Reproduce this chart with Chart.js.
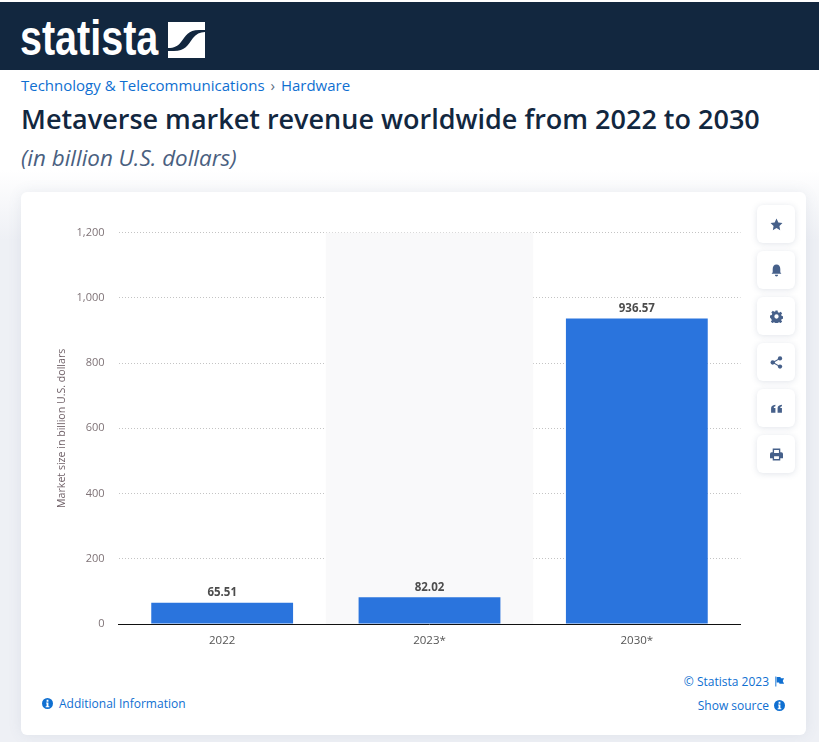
<!DOCTYPE html>
<html>
<head>
<meta charset="utf-8">
<title>Metaverse market revenue worldwide from 2022 to 2030</title>
<script src="https://cdn.jsdelivr.net/npm/chart.js@4"></script>
<style>
    html, body { margin: 0; padding: 0; }
    body { width: 819px; height: 742px; position: relative; overflow: hidden; background: #fff; font-family: "Open Sans", sans-serif; }
    .backdrop { position: absolute; left: 0; top: 170px; width: 819px; height: 572px; background: linear-gradient(#fff 0, #eef0f5 70px); }
    .header { position: absolute; left: 0; top: 2px; width: 819px; height: 68px; background: #12273f; }
    .logo-text { position: absolute; left: 20px; top: 8px; color: #fff; font: bold 50px "Liberation Sans", sans-serif; line-height: 56px; transform: scaleX(0.79); transform-origin: left top; }
    .logo-mark { position: absolute; left: 168px; top: 20px; }
    .crumbs { position: absolute; left: 21px; top: 75px; font-size: 15px; line-height: 21px; color: #0f6fd1; white-space: nowrap; }
    .crumbs .sep { color: #5c6b80; margin: 0 2px; }
    h1 { position: absolute; left: 21px; top: 101px; margin: 0; font-size: 27px; line-height: 36px; font-weight: 600; color: #12273f; white-space: nowrap; }
    .subtitle { position: absolute; left: 21px; top: 143px; font-size: 22.4px; line-height: 30px; font-style: italic; color: #4a6080; white-space: nowrap; }
    .card { position: absolute; left: 21px; top: 192px; width: 785px; height: 543px; background: #fff; border-radius: 6px; box-shadow: 0 0 14px rgba(90, 105, 140, 0.10); }
    #chartBox { position: absolute; left: 40px; top: 212px; width: 710px; height: 443px; }
    .tool { position: absolute; left: 757px; width: 38px; height: 38px; background: #fff; border-radius: 6px; box-shadow: 0 1px 6px rgba(90, 105, 140, 0.18); display: flex; align-items: center; justify-content: center; }
    .tool svg { width: 13px; height: 13px; fill: #46608a; }
    .link { position: absolute; font-size: 12px; line-height: 16px; color: #0f6fd1; white-space: nowrap; }
    .link svg { position: absolute; width: 11px; height: 11px; top: 2px; fill: #0f6fd1; }
</style>
</head>
<body>
<div class="backdrop"></div>
<div class="header">
    <div class="logo-text">statista</div>
    <svg class="logo-mark" width="37" height="36" viewBox="0 0 37 36">
        <path fill="#fff" d="M0 0H37V8H31C20 8 18 14 13 20C10 24 6 26 0 26Z"/>
        <path fill="#fff" d="M37 36H0V29H6C17 29 20 23 25 16C28 12 32 10 37 10Z"/>
    </svg>
</div>
<div class="crumbs">Technology &amp; Telecommunications <span class="sep">›</span> Hardware</div>
<h1>Metaverse market revenue worldwide from 2022 to 2030</h1>
<div class="subtitle">(in billion U.S. dollars)</div>
<div class="card"></div>
<div id="chartBox"><canvas id="revenueChart"></canvas></div>

<div class="tool" style="top:205px"><svg viewBox="0 0 24 24"><path d="M12 1l3.4 7.2 7.6 1-5.6 5.4 1.4 7.8-6.8-3.8-6.8 3.8 1.4-7.8L1 9.2l7.6-1z"/></svg></div>
<div class="tool" style="top:251px"><svg viewBox="0 0 24 24"><path d="M12 1c-4.500 0-7 3.500-7 8v6l-2 3h18l-2-3V9c0-4.500-2.500-8-7-8zM9 20a3 3 0 0 0 6 0z"/></svg></div>
<div class="tool" style="top:297px"><svg viewBox="0 0 24 24"><path fill-rule="evenodd" d="M10 1h4l.6 3.200 2.300 1 2.700-1.800 2.800 2.800-1.800 2.700 1 2.300 3.200.6v4l-3.200.6-1 2.300 1.800 2.700-2.800 2.800-2.700-1.800-2.300 1-.6 3.200h-4l-.6-3.200-2.300-1-2.700 1.800-2.800-2.800 1.800-2.700-1-2.300L0 14v-4l3.200-.6 1-2.300-1.800-2.700 2.800-2.800 2.700 1.800 2.300-1zM12 8a4 4 0 1 0 0 8 4 4 0 0 0 0-8z"/></svg></div>
<div class="tool" style="top:343px"><svg viewBox="0 0 24 24"><circle cx="18.500" cy="4.500" r="4"/><circle cx="5" cy="12" r="4"/><circle cx="18.500" cy="19.500" r="4"/><path d="M5 11l13-7.500 1 1.800L6 12.800zM6 11.200l13 7.500-1 1.800L5 13z"/></svg></div>
<div class="tool" style="top:389px"><svg viewBox="0 0 24 24"><path d="M2 20v-8c0-4 2-6 8-7v3c-2 .4-3 1.500-3 3h3v9zM14 20v-8c0-4 2-6 8-7v3c-2 .4-3 1.500-3 3h3v9z"/></svg></div>
<div class="tool" style="top:435px"><svg viewBox="0 0 24 24"><path fill-rule="evenodd" d="M5 1h14v7h2a3 3 0 0 1 3 3v8h-5v4H5v-4H0v-8a3 3 0 0 1 3-3h2zM7.500 3.500V9h9V3.500zM7.500 15v5.500h9V15z"/></svg></div>

<div class="link" style="left:59px;top:696px">Additional Information<svg style="left:-17px" viewBox="0 0 24 24"><path fill-rule="evenodd" d="M12 0a12 12 0 1 0 0 24 12 12 0 0 0 0-24zM10 4h4v4h-4zM9 10h5v8h2v2H8v-2h2v-6H9z"/></svg></div>
<div class="link" style="right:50px;top:674px">© Statista 2023<svg style="right:-16px" viewBox="0 0 24 24"><path d="M3 1h2v22H3zM6 2h8l1 3h7l-3 6 3 6H12l-1-3H6z"/></svg></div>
<div class="link" style="right:50px;top:698px">Show source<svg style="right:-16px" viewBox="0 0 24 24"><path fill-rule="evenodd" d="M12 0a12 12 0 1 0 0 24 12 12 0 0 0 0-24zM10 4h4v4h-4zM9 10h5v8h2v2H8v-2h2v-6H9z"/></svg></div>

<script>
const categories = ["2022", "2023*", "2030*"];
const revenue = [65.51, 82.02, 936.57];
const valueLabels = ["65.51", "82.02", "936.57"];
const forecastBand = ["2023*"];
const axisTitle = "Market size in billion U.S. dollars";

// grey background behind the forecast column
const bandPlugin = {
    id: 'bandPlugin',
    beforeDatasetsDraw(chart) {
        const { ctx, chartArea, scales } = chart;
        const step = scales.x.getPixelForValue(1) - scales.x.getPixelForValue(0);
        ctx.save();
        ctx.fillStyle = '#f9f9fa';
        forecastBand.forEach(name => {
            const mid = scales.x.getPixelForValue(categories.indexOf(name));
            ctx.fillRect(mid - step / 2, chartArea.top, step, chartArea.height);
        });
        ctx.restore();
    }
};

// value labels above the bars
const valuePlugin = {
    id: 'valuePlugin',
    afterDatasetsDraw(chart) {
        const { ctx } = chart;
        ctx.save();
        ctx.font = 'bold 11.5px "Open Sans"';
        ctx.fillStyle = '#4c4c4c';
        ctx.textAlign = 'center';
        ctx.textBaseline = 'bottom';
        chart.getDatasetMeta(0).data.forEach((bar, i) => {
            ctx.fillText(valueLabels[i], bar.x, bar.y - 4);
        });
        ctx.restore();
    }
};

const ctx = document.getElementById('revenueChart').getContext('2d');
new Chart(ctx, {
    type: 'bar',
    data: {
        labels: categories,
        datasets: [{
            data: revenue,
            backgroundColor: '#2a74dd',
            categoryPercentage: 1,
            barPercentage: 0.684
        }]
    },
    options: {
        responsive: true,
        maintainAspectRatio: false,
        animation: false,
        layout: { padding: { top: 20, right: 9.5, left: 0, bottom: 0 } },
        plugins: { legend: { display: false }, tooltip: { enabled: false } },
        scales: {
            x: {
                grid: { display: false, drawTicks: false },
                border: { color: '#111', width: 1 },
                ticks: { color: '#555', font: { family: 'Open Sans', size: 11.5 }, padding: 10, maxRotation: 0 },
                afterFit(scale) { scale.height = 31; }
            },
            y: {
                min: 0,
                max: 1200,
                grid: {
                    color: ctx => ctx.tick.value === 0 ? 'rgba(0,0,0,0)' : '#c4c4c4',
                    lineWidth: 1,
                    drawTicks: false
                },
                border: { display: false, dash: [1, 2] },
                ticks: {
                    stepSize: 200,
                    color: '#7f7377',
                    font: { family: 'Open Sans', size: 11 },
                    padding: 14,
                    callback: v => v.toLocaleString('en-US')
                },
                title: {
                    display: true,
                    text: axisTitle,
                    color: '#6e5f66',
                    font: { family: 'Open Sans', size: 10.6 },
                    padding: { top: 16, bottom: 0 }
                },
                afterFit(scale) { scale.width = 78.5; }
            }
        }
    },
    plugins: [bandPlugin, valuePlugin]
});
</script>
</body>
</html>
